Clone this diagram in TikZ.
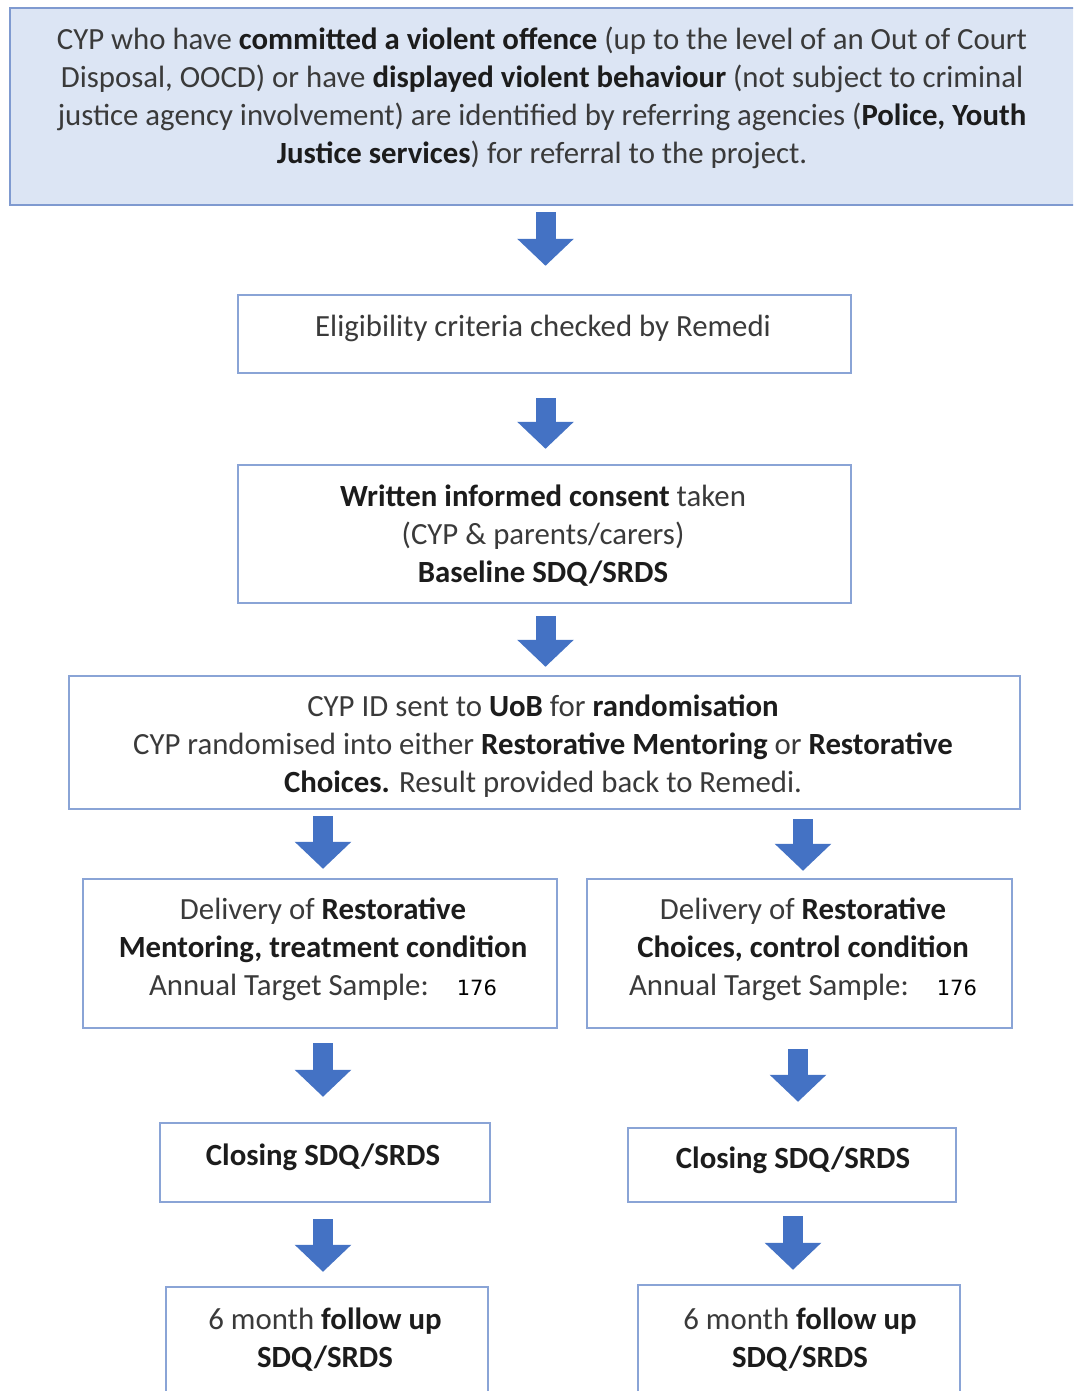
\documentclass[tikz,border=0pt]{standalone}
\usepackage{fontspec}
\setmainfont{Carlito}
\newfontfamily\numfont{DejaVu Sans}
\usetikzlibrary{arrows.meta,calc}
\definecolor{boxline}{HTML}{8AA4D6}
\definecolor{topline}{HTML}{7F9AD0}
\definecolor{topfill}{HTML}{DCE5F4}
\definecolor{arrowblue}{HTML}{4472C4}
\definecolor{txt}{HTML}{3A3A3A}
\definecolor{txtb}{HTML}{1C1C1C}
\newcommand{\hb}[1]{\textbf{\color{txtb}#1}}
\newcommand{\numtxt}[1]{{\numfont\fontsize{21}{24}\selectfont\color{black}#1}}
\begin{document}
\begin{tikzpicture}[x=1pt,y=-1pt,
  box/.style={draw=boxline, line width=2.4pt, inner sep=0pt, rectangle},
  topbox/.style={box, draw=topline, fill=topfill},
  label/.style={align=center, text=txt, font=\fontsize{30.8}{38}\selectfont, inner sep=0pt},
  blk/.style={draw=arrowblue, line width=20pt, -{Triangle[width=55pt,length=27pt]}}
]
\path[use as bounding box] (0,0) rectangle (1073,1391);
\clip (0,0) rectangle (1073,1391);
\fill[white] (0,0) rectangle (1073,1391);

% boxes
\node[topbox, minimum width=1065pt, minimum height=197pt] (b1) at (542.5,106.5) {};
\node[box, minimum width=613pt, minimum height=78pt] (b2) at (544.5,334) {};
\node[box, minimum width=613pt, minimum height=138pt] (b3) at (544.5,534) {};
\node[box, minimum width=951pt, minimum height=133pt] (b4) at (544.5,742.5) {};
\node[box, minimum width=474pt, minimum height=149pt] (b5l) at (320,953.5) {};
\node[box, minimum width=425pt, minimum height=149pt] (b5r) at (799.5,953.5) {};
\node[box, minimum width=330pt, minimum height=79pt] (b6l) at (325,1162.5) {};
\node[box, minimum width=328pt, minimum height=74pt] (b6r) at (792,1165) {};
\node[box, minimum width=322pt, minimum height=133pt] (b7l) at (327,1353.5) {};
\node[box, minimum width=322pt, minimum height=135pt] (b7r) at (799,1352.5) {};

% texts
\node[label] (t1) at (542,97.5) {CYP who have \hb{committed a violent offence} (up to the level of an Out of Court\\
Disposal, OOCD) or have \hb{displayed violent behaviour} (not subject to criminal\\
justice agency involvement) are identified by referring agencies (\hb{Police, Youth}\\
\hb{Justice services}) for referral to the project.};
\node[label] (t2) at (543,328.5) {Eligibility criteria checked by Remedi};
\node[label] (t3) at (543,535.5) {\hb{Written informed consent} taken\\
(CYP \& parents/carers)\\
\hb{Baseline SDQ/SRDS}};
\node[label] (t4) at (543,746.5) {CYP ID sent to \hb{UoB} for \hb{randomisation}\\
CYP randomised into either \hb{Restorative Mentoring} or \hb{Restorative}\\
\hb{Choices.} Result provided back to Remedi.};
\node[label] (t5l) at (323,949.5) {Delivery of \hb{Restorative}\\
\hb{Mentoring, treatment condition}\\
Annual Target Sample:\hspace{28pt}\numtxt{176}};
\node[label] (t5r) at (803,949.5) {Delivery of \hb{Restorative}\\
\hb{Choices, control condition}\\
Annual Target Sample:\hspace{28pt}\numtxt{176}};
\node[label] (t6l) at (323,1157.5) {\hb{Closing SDQ/SRDS}};
\node[label] (t6r) at (793,1160.5) {\hb{Closing SDQ/SRDS}};
\node[label] (t7l) at (325,1339.5) {6 month \hb{follow up}\\ \hb{SDQ/SRDS}};
\node[label] (t7r) at (800,1339.5) {6 month \hb{follow up}\\ \hb{SDQ/SRDS}};

% arrows
\draw[blk] ($(b1.south -| b2.north)+(1pt,-6pt)$) -- ($(b2.north)+(1pt,28pt)$);
\draw[blk] ($(b2.south)+(1pt,-24pt)$) -- ($(b3.north)+(1pt,15pt)$);
\draw[blk] ($(b3.south)+(1pt,-12pt)$) -- ($(b4.north)+(1pt,8pt)$);
\draw[blk] ($(b4.south -| b5l.north)+(3pt,-6pt)$) -- ($(b5l.north)+(3pt,9pt)$);
\draw[blk] ($(b4.south -| b5r.north)+(3.5pt,-9pt)$) -- ($(b5r.north)+(3.5pt,7pt)$);
\draw[blk] ($(b5l.south -| b6l.north)+(-2pt,-14pt)$) -- ($(b6l.north)+(-2pt,25pt)$);
\draw[blk] ($(b5r.south -| b6r.north)+(6pt,-20pt)$) -- ($(b6r.north)+(6pt,25pt)$);
\draw[blk] ($(b6l.south -| b7l.north)+(-4pt,-16pt)$) -- ($(b7l.north)+(-4pt,14pt)$);
\draw[blk] ($(b6r.south -| b7r.north)+(-6pt,-13pt)$) -- ($(b7r.north)+(-6pt,14pt)$);
\end{tikzpicture}
\end{document}
